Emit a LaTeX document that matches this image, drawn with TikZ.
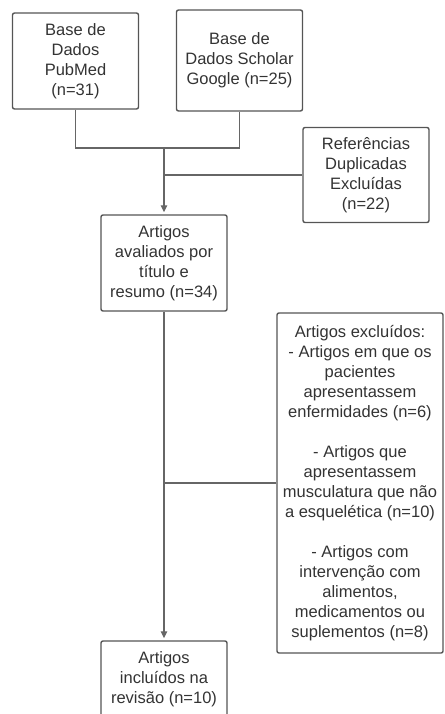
\documentclass[tikz,border=0pt]{standalone}
\usepackage{fontspec}
\setmainfont{Liberation Sans}
\usetikzlibrary{arrows.meta}
\definecolor{boxline}{HTML}{555555}
\definecolor{boxtext}{HTML}{333333}
\definecolor{linkline}{HTML}{666666}

\begin{document}
\begin{tikzpicture}[x=1pt,y=-1pt,
  box/.style={draw=boxline,line width=1.4pt,rounded corners=2pt,text=boxtext,align=center,inner sep=0pt,minimum width=126pt,font=\fontsize{16.5}{20}\selectfont},
  link/.style={draw=linkline,line width=1.2pt},
  arr/.style={link,-{Triangle[length=7pt,width=6.5pt]},shorten >=2pt}]
\clip (0,0) rectangle (444,714);

% bases de dados
\node[box,minimum height=96pt] (pubmed) at (75.5,61) {Base de\\Dados\\PubMed\\(n=31)};
\node[box,minimum height=101pt] (scholar) at (239.5,60.5) {Base de\\Dados Scholar\\Google (n=25)};
\node[box,minimum height=95pt] (dupl) at (366,175) {Referências\\Duplicadas\\Excluídas\\(n=22)};

% triagem
\node[box,minimum height=96pt] (triagem) at (164,263) {Artigos\\avaliados por\\título e\\resumo (n=34)};
\node[box,minimum width=166pt,minimum height=340pt] (excl) at (360,483) {Artigos excluídos:\\- Artigos em que os\\pacientes\\apresentassem\\enfermidades (n=6)\\[20pt]- Artigos que\\apresentassem\\musculatura que não\\a esquelética (n=10)\\[20pt]- Artigos com\\intervenção com\\alimentos,\\medicamentos ou\\suplementos (n=8)};
\node[box,minimum height=76pt] (incl) at (164,679) {Artigos\\incluídos na\\revisão (n=10)};

\coordinate (jn) at (164,148);
\draw[link] (pubmed.south) |- (jn) -| (scholar.south);
\draw[arr] (jn) -- (triagem.north);
\draw[link] (dupl.west) -- (dupl.west -| jn);
\draw[arr] (triagem.south) -- (incl.north);
\draw[link] (excl.west) -- (excl.west -| triagem.south);

\end{tikzpicture}
\end{document}
